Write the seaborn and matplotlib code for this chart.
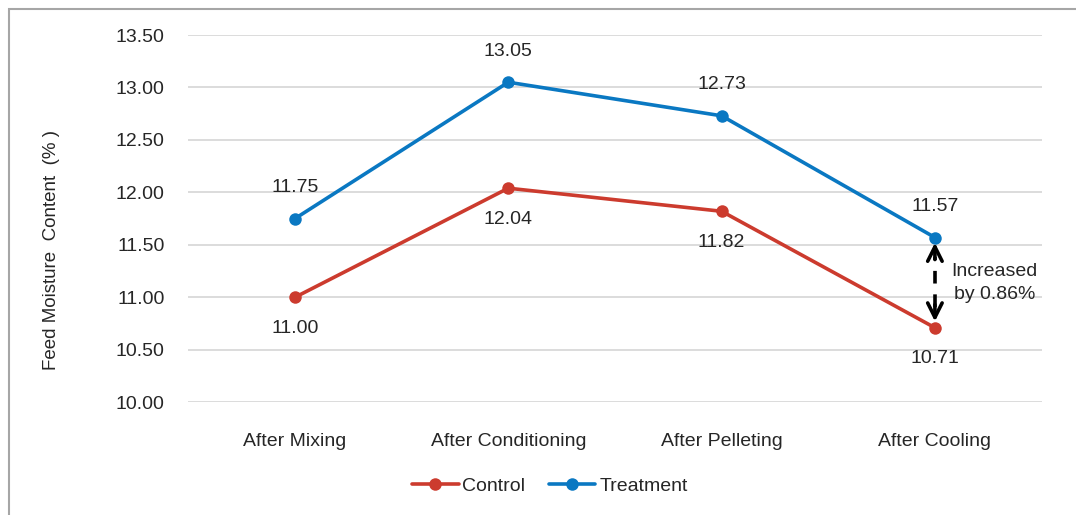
import pandas as pd
import matplotlib
matplotlib.use("Agg")
import matplotlib.pyplot as plt
import matplotlib.patches as mpatches
from matplotlib.ticker import FormatStrFormatter
import seaborn as sns

# data
stages = ["After Mixing", "After Conditioning", "After Pelleting", "After Cooling"]
control = [11.00, 12.04, 11.82, 10.71]
treatment = [11.75, 13.05, 12.73, 11.57]
y_ticks = [10.0, 10.5, 11.0, 11.5, 12.0, 12.5, 13.0, 13.5]
note = "Increased\nby 0.86%"

df = pd.DataFrame({
    "Stage": stages * 2,
    "Moisture": control + treatment,
    "Group": ["Control"] * len(stages) + ["Treatment"] * len(stages),
})

sns.set_theme(style="white")
plt.rcParams["font.family"] = ["Liberation Sans", "DejaVu Sans"]
text_col = "#262626"
colors = {"Control": "#cc3b2e", "Treatment": "#0a78c2"}

fig = plt.figure(figsize=(10.76, 5.15), dpi=100)
ax = fig.add_axes([0.175, 0.219, 0.793, 0.713])

sns.lineplot(data=df, x="Stage", y="Moisture", hue="Group", palette=colors,
             marker="o", markersize=9, markeredgewidth=0, linewidth=2.6,
             sort=False, ax=ax, legend=True)

ax.set_xlim(-0.5, len(stages) - 0.5)
ax.set_ylim(y_ticks[0], y_ticks[-1])
ax.set_yticks(y_ticks)
ax.yaxis.set_major_formatter(FormatStrFormatter("%.2f"))
ax.grid(axis="y", color="#d9d9d9", linewidth=1.3)
ax.set_axisbelow(True)
for s in ax.spines.values():
    s.set_visible(False)
ax.tick_params(axis="x", length=0, pad=22, labelsize=14, labelcolor=text_col)
ax.tick_params(axis="y", length=0, pad=17, labelsize=14, labelcolor=text_col)
ax.set_xlabel("")
ax.set_ylabel("Feed Moisture  Content  (% )", fontsize=13.5, color=text_col)
ax.yaxis.set_label_coords(-0.150, 0.414)

# data labels
for i, v in enumerate(treatment):
    ax.annotate(f"{v:.2f}", (i, v), xytext=(0, 31), textcoords="offset pixels",
                ha="center", va="center", fontsize=14, color=text_col)
for i, v in enumerate(control):
    ax.annotate(f"{v:.2f}", (i, v), xytext=(0, -31), textcoords="offset pixels",
                ha="center", va="center", fontsize=14, color=text_col)

# difference arrow at last stage
last = len(stages) - 1
top = treatment[-1] - 0.05
bot = control[-1] + 0.06
ax.plot([last, last], [bot + 0.14, top - 0.14], color="black", lw=2.6,
        ls=(0, (3.5, 3)))
for tip, tail in [(top, top - 0.16), (bot, bot + 0.16)]:
    ax.annotate("", xy=(last, tip), xytext=(last, tail),
                arrowprops=dict(arrowstyle="->", lw=2.6, color="black",
                                mutation_scale=26, shrinkA=0, shrinkB=0))
ax.text(last + 0.28, (treatment[-1] + control[-1]) / 2, note, ha="center",
        va="center", fontsize=14, color=text_col, linespacing=1.45)

# legend at bottom
handles, labels = ax.get_legend_handles_labels()
ax.get_legend().remove()
fig.legend(handles, labels, loc="center", bbox_to_anchor=(0.511, 0.056), ncol=2,
           frameon=False, fontsize=14, handlelength=2.4, columnspacing=1.2,
           handletextpad=0.2, labelcolor=text_col)

# chart border (only top/left visible in the crop)
fig.patches.append(mpatches.Rectangle((8.5 / 1076, -0.1), 1.2, 1.1 - 9.5 / 515,
                                      transform=fig.transFigure, fill=False,
                                      edgecolor="#a6a6a6", lw=1.5))

fig.savefig("out.png", dpi=100)
